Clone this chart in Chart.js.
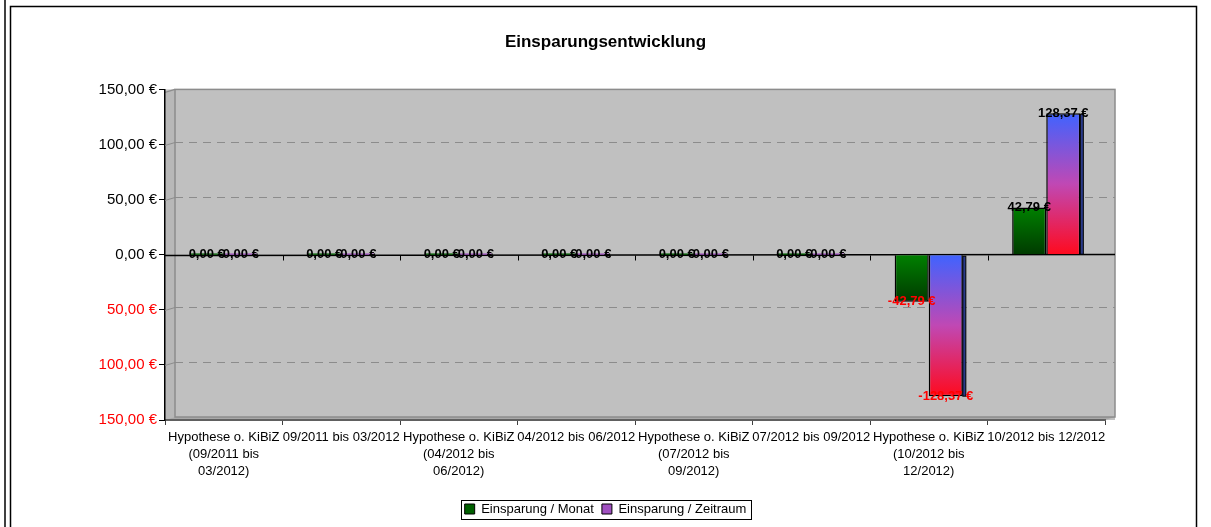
<!DOCTYPE html>
<html>
<head>
<meta charset="utf-8">
<script src="https://cdn.jsdelivr.net/npm/chart.js"></script>
<style>
html, body { margin: 0; padding: 0; background: #fff; }
</style>
</head>
<body>
<canvas id="myChart" width="1211" height="527"></canvas>
<script>
// Daten
var categories = [
    ['Hypothese o. KiBiZ', '(09/2011 bis', '03/2012)'],
    '09/2011 bis 03/2012',
    ['Hypothese o. KiBiZ', '(04/2012 bis', '06/2012)'],
    '04/2012 bis 06/2012',
    ['Hypothese o. KiBiZ', '(07/2012 bis', '09/2012)'],
    '07/2012 bis 09/2012',
    ['Hypothese o. KiBiZ', '(10/2012 bis', '12/2012)'],
    '10/2012 bis 12/2012'
];
var einsparungMonat = [0, 0, 0, 0, 0, 0, -42.79, 42.79];
var einsparungZeitraum = [0, 0, 0, 0, 0, 0, -128.37, 128.37];
var yTicks = [-150, -100, -50, 0, 50, 100, 150];

Chart.defaults.font.family = '"Liberation Sans", Arial, sans-serif';
Chart.defaults.color = '#000';

function euro(v) {
    return v.toFixed(2).replace('.', ',') + ' €';
}

// Verlauf pro Balken (oben -> unten)
function verlauf(stops, fallback) {
    return function (c) {
        if (c.type !== 'data') return fallback;
        var y = c.chart.scales.y;
        if (!y) return fallback;
        var p0 = y.getPixelForValue(0);
        var p1 = y.getPixelForValue(c.parsed.y);
        var top = Math.min(p0, p1), bottom = Math.max(p0, p1);
        if (bottom - top < 2) return fallback;
        var g = c.chart.ctx.createLinearGradient(0, top, 0, bottom);
        stops.forEach(function (s) { g.addColorStop(s[0], s[1]); });
        return g;
    };
}

var D = 10, H = 3; // 3D Tiefe

var wandPlugin = {
    id: 'wand',
    beforeDraw: function (chart) {
        var ctx = chart.ctx, a = chart.chartArea;
        ctx.save();
        // Rahmen
        ctx.strokeStyle = '#000';
        ctx.lineWidth = 1.5;
        ctx.beginPath();
        ctx.moveTo(5, 0); ctx.lineTo(5, 527);
        ctx.stroke();
        ctx.strokeRect(10.5, 6.5, 1186, 540);
        // Rueckwand
        ctx.fillStyle = '#c0c0c0';
        ctx.fillRect(a.left, a.top, a.right - a.left + D, a.bottom - a.top);
        // Seitenwand
        ctx.fillStyle = '#b8b8b8';
        ctx.beginPath();
        ctx.moveTo(a.left, a.top + H);
        ctx.lineTo(a.left + D, a.top);
        ctx.lineTo(a.left + D, a.bottom - H);
        ctx.lineTo(a.left, a.bottom);
        ctx.closePath();
        ctx.fill();
        // Boden
        ctx.fillStyle = '#a8a8a8';
        ctx.beginPath();
        ctx.moveTo(a.left, a.bottom);
        ctx.lineTo(a.left + D, a.bottom - H);
        ctx.lineTo(a.right + D, a.bottom - H);
        ctx.lineTo(a.right, a.bottom);
        ctx.closePath();
        ctx.fill();
        ctx.strokeStyle = '#8c8c8c';
        ctx.lineWidth = 1.5;
        ctx.strokeRect(a.left + D, a.top, a.right - a.left, a.bottom - H - a.top);
        ctx.beginPath();
        ctx.moveTo(a.left, a.top + H); ctx.lineTo(a.left + D, a.top);
        ctx.stroke();
        ctx.restore();
    },
    beforeDatasetsDraw: function (chart) {
        var ctx = chart.ctx, a = chart.chartArea, y = chart.scales.y;
        ctx.save();
        // Gitterlinien
        ctx.strokeStyle = '#8c8c8c';
        ctx.lineWidth = 1;
        yTicks.forEach(function (v) {
            if (v === 0 || v === yTicks[0] || v === yTicks[yTicks.length - 1]) return;
            var py = Math.round(y.getPixelForValue(v)) + 0.5;
            ctx.setLineDash([]);
            ctx.beginPath();
            ctx.moveTo(a.left, py); ctx.lineTo(a.left + D, py - H);
            ctx.stroke();
            ctx.setLineDash([8, 6]);
            ctx.beginPath();
            ctx.moveTo(a.left + D, py - H); ctx.lineTo(a.right + D, py - H);
            ctx.stroke();
        });
        ctx.setLineDash([]);
        // Nulllinie
        var y0 = Math.round(y.getPixelForValue(0)) + 0.5;
        ctx.strokeStyle = '#000';
        ctx.lineWidth = 1.5;
        ctx.beginPath();
        ctx.moveTo(a.left, y0); ctx.lineTo(a.right + D, y0 - 1);
        ctx.stroke();
        var n = categories.length;
        ctx.lineWidth = 1;
        for (var i = 1; i < n; i++) {
            var px = Math.round(a.left + i * (a.right - a.left) / n) + 0.5;
            ctx.beginPath();
            ctx.moveTo(px, y0); ctx.lineTo(px, y0 + 5);
            ctx.stroke();
        }
        ctx.restore();
    },
    afterDatasetsDraw: function (chart) {
        var ctx = chart.ctx, y = chart.scales.y;
        ctx.save();
        // 3D Seite der Zeitraum-Balken
        var ds2 = chart.data.datasets[1];
        chart.getDatasetMeta(1).data.forEach(function (bar, i) {
            var v = ds2.data[i];
            if (Math.abs(y.getPixelForValue(v) - y.getPixelForValue(0)) < 4) return;
            var p = bar.getProps(['x', 'y', 'base', 'width'], true);
            var r = p.x + p.width / 2;
            var t = Math.min(p.y, p.base), b = Math.max(p.y, p.base);
            ctx.fillStyle = '#2a3a8a';
            ctx.fillRect(r, t + 1, 3, b - t - 1);
            ctx.strokeStyle = '#000';
            ctx.lineWidth = 1;
            ctx.strokeRect(r, t + 1, 3, b - t - 1);
        });
        ctx.font = 'bold 13px "Liberation Sans", Arial, sans-serif';
        ctx.textAlign = 'center';
        ctx.textBaseline = 'middle';
        chart.data.datasets.forEach(function (ds, di) {
            chart.getDatasetMeta(di).data.forEach(function (bar, i) {
                var v = ds.data[i];
                ctx.fillStyle = v < 0 ? '#ff0000' : '#000';
                var p = bar.getProps(['x', 'y'], true);
                var ty = v === 0 ? y.getPixelForValue(0) : p.y;
                ctx.fillText(euro(v), p.x, ty);
            });
        });
        ctx.restore();
    },
    afterDraw: function (chart) {
        var boxes = chart.legend.legendHitBoxes;
        if (!boxes || !boxes.length) return;
        var l = boxes[0], r = boxes[boxes.length - 1];
        var ctx = chart.ctx;
        ctx.save();
        ctx.strokeStyle = '#000';
        ctx.lineWidth = 1;
        ctx.strokeRect(Math.round(l.left - 4) + 0.5, Math.round(l.top - 3) + 0.5,
            Math.round(r.left + r.width - l.left + 8), Math.round(l.height + 6));
        ctx.restore();
    }
};

var ctx = document.getElementById('myChart').getContext('2d');
var chart = new Chart(ctx, {
    type: 'bar',
    data: {
        labels: categories,
        datasets: [{
            label: 'Einsparung / Monat',
            data: einsparungMonat,
            backgroundColor: verlauf([[0, '#008000'], [1, '#003a00']], '#006000'),
            borderColor: '#000',
            borderWidth: 1.5,
            minBarLength: 3
        }, {
            label: 'Einsparung / Zeitraum',
            data: einsparungZeitraum,
            backgroundColor: verlauf([[0, '#3f63ff'], [0.5, '#c048b4'], [1, '#ff0a1e']], '#a050c0'),
            borderColor: '#000',
            borderWidth: 1.5,
            minBarLength: 3
        }]
    },
    options: {
        responsive: false,
        animation: false,
        devicePixelRatio: 1,
        categoryPercentage: 0.58,
        barPercentage: 1,
        layout: { padding: { left: 0, right: 0, top: 0, bottom: 1.5 } },
        plugins: {
            title: {
                display: true,
                text: 'Einsparungsentwicklung',
                font: { size: 17, weight: 'bold' },
                color: '#000',
                padding: { top: 32, bottom: 37 }
            },
            legend: {
                position: 'bottom',
                labels: {
                    boxWidth: 10,
                    boxHeight: 10,
                    padding: 8,
                    font: { size: 13 },
                    color: '#000',
                    generateLabels: function (chart) {
                        var farben = ['#006000', '#a050c0'];
                        return chart.data.datasets.map(function (ds, i) {
                            return {
                                text: ds.label,
                                fillStyle: farben[i],
                                strokeStyle: '#000',
                                lineWidth: 1,
                                datasetIndex: i
                            };
                        });
                    }
                }
            },
            tooltip: { enabled: false }
        },
        scales: {
            x: {
                grid: { display: true, drawOnChartArea: false, offset: true, tickLength: 5, tickColor: '#404040' },
                border: { color: '#606060', width: 2 },
                ticks: {
                    autoSkip: false,
                    maxRotation: 0,
                    minRotation: 0,
                    padding: 4,
                    font: { size: 13, lineHeight: 1.3 },
                    color: '#000'
                },
                afterFit: function (scale) { scale.height = 74.5; }
            },
            y: {
                min: yTicks[0],
                max: yTicks[yTicks.length - 1],
                afterBuildTicks: function (scale) {
                    scale.ticks = yTicks.map(function (v) { return { value: v }; });
                },
                grid: { drawOnChartArea: false, tickLength: 6, tickColor: '#000' },
                border: { color: '#000', width: 1.5 },
                ticks: {
                    padding: 2,
                    font: { size: 15 },
                    color: function (c) { return c.tick && c.tick.value < 0 ? '#ff0000' : '#000'; },
                    callback: function (v) { return euro(Math.abs(v)); }
                },
                afterFit: function (scale) { scale.width = 165; }
            },
            // leerer Platz rechts
            rechts: {
                position: 'right',
                grid: { display: false },
                border: { display: false },
                ticks: { display: false },
                afterFit: function (scale) { scale.width = 106; }
            }
        }
    },
    plugins: [wandPlugin]
});
</script>
</body>
</html>
